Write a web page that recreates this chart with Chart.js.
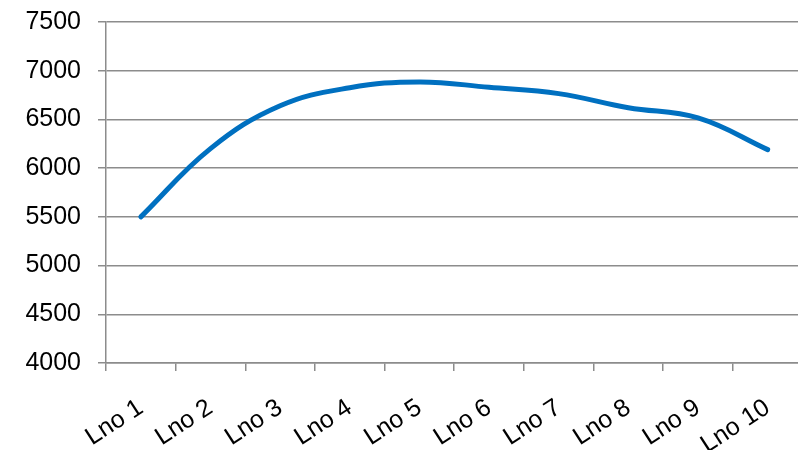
<!DOCTYPE html>
<html>
<head>
<meta charset="utf-8">
<script src="https://cdn.jsdelivr.net/npm/chart.js@4"></script>
<style>
  html, body { margin: 0; padding: 0; background: #fff; overflow: hidden; }
  #wrap { width: 806px; height: 460px; position: absolute; left: 0; top: -10px; }
</style>
</head>
<body>
<div id="wrap"><canvas id="lnoChart"></canvas></div>
<script>
// Categories along the x axis
const labels = ['Lno 1', 'Lno 2', 'Lno 3', 'Lno 4', 'Lno 5', 'Lno 6', 'Lno 7', 'Lno 8', 'Lno 9', 'Lno 10'];
// Values
const values = [5500, 6200, 6640, 6825, 6885, 6830, 6765, 6620, 6515, 6190];
// Y axis range
const yMin = 4000;
const yMax = 7500;
const yStep = 500;

const gridColor = '#8c8c8c';
const tickFont = { family: 'Liberation Sans, Arial, sans-serif', size: 25 };

const ctx = document.getElementById('lnoChart').getContext('2d');

new Chart(ctx, {
    type: 'line',
    data: {
        labels: labels,
        datasets: [{
            data: values,
            borderColor: '#0070c0',
            borderWidth: 5,
            borderCapStyle: 'round',
            pointRadius: 0,
            fill: false,
            tension: 0.4
        }]
    },
    options: {
        responsive: true,
        maintainAspectRatio: false,
        animation: false,
        layout: { padding: { top: 12, right: 0, bottom: 0, left: 0 } },
        plugins: {
            legend: { display: false },
            tooltip: { enabled: false }
        },
        scales: {
            x: {
                offset: true,
                grid: {
                    offset: true,
                    drawOnChartArea: false,
                    color: gridColor,
                    lineWidth: 1.5,
                    tickLength: 8
                },
                border: { color: gridColor, width: 1.5 },
                ticks: {
                    color: '#000',
                    font: tickFont,
                    minRotation: 33,
                    maxRotation: 33,
                    autoSkip: false,
                    padding: 22
                },
                afterFit: (scale) => { scale.height = 87; }
            },
            y: {
                min: yMin,
                max: yMax,
                grid: {
                    color: gridColor,
                    lineWidth: 1.5,
                    tickLength: 8
                },
                border: { color: gridColor, width: 1.5 },
                ticks: {
                    stepSize: yStep,
                    color: '#000',
                    font: tickFont,
                    padding: 17,
                    callback: (value) => String(value)
                },
                afterFit: (scale) => { scale.width = 106; }
            }
        }
    }
});
</script>
</body>
</html>
